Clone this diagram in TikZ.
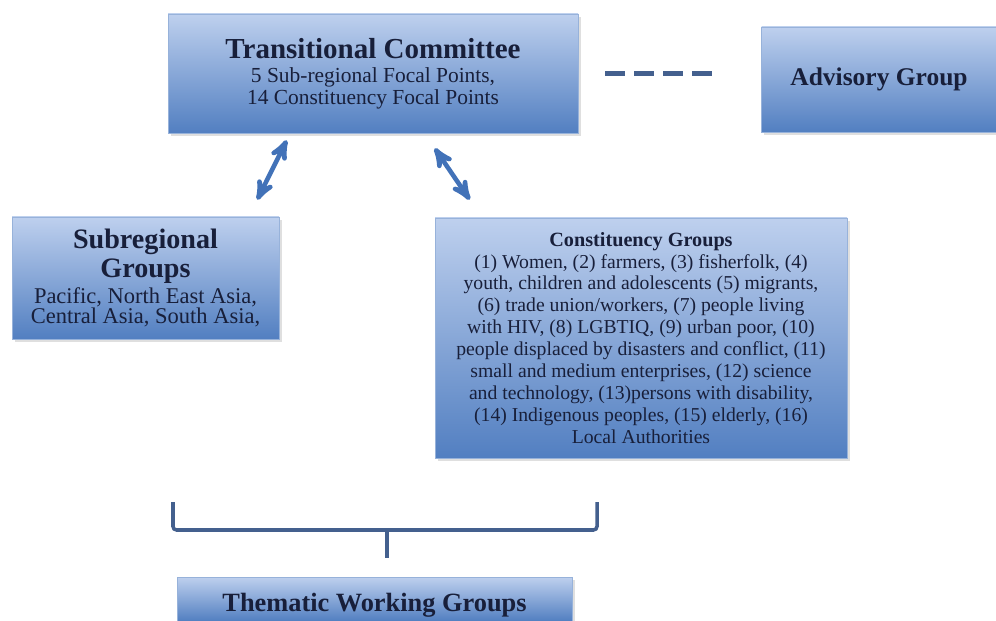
\documentclass[tikz,border=0pt]{standalone}
\usepackage{fontspec}
\setmainfont{Liberation Serif}
\usetikzlibrary{arrows,positioning,shadows}
\definecolor{boxtop}{RGB}{190,208,238}
\definecolor{boxbot}{RGB}{82,127,193}
\definecolor{ink}{RGB}{24,31,58}
\definecolor{pilblue}{RGB}{66,114,184}
\definecolor{bracegray}{RGB}{68,96,142}
\tikzset{
    %Define standard arrow tip
    >=stealth',
    %Define style for the group boxes
    group/.style={
           rectangle,
           draw=boxbot!60!white, line width=0.3pt,
           top color=boxtop,
           bottom color=boxbot,
           drop shadow={shadow xshift=0.05cm, shadow yshift=-0.06cm, opacity=0.25},
           text=ink,
           align=center,
           inner sep=0pt},
    % Define arrow style
    dblpil/.style={
           <->,
           color=pilblue,
           line width=2.6pt},
    % dashed link and bracket
    dashlink/.style={
           draw=bracegray, line width=2.8pt,
           dash pattern=on 0.4cm off 0.18cm},
    bracket/.style={
           draw=bracegray, line width=2pt,
           rounded corners=2pt}
}

\begin{document}
\begin{tikzpicture}
\useasboundingbox (0,0) rectangle (19.92,-12.42);
\node[group, minimum width=8.2cm, minimum height=2.38cm, font=\fontsize{12.2}{12.5}\selectfont] (T) at (7.46,-1.47)
  {\fontsize{16.5}{16}\selectfont\bfseries Transitional Committee\\[1pt]
   5 Sub-regional Focal Points,\\ 14 Constituency Focal Points};
\node[group, minimum width=4.7cm, minimum height=2.1cm, font=\fontsize{14.5}{16}\selectfont\bfseries,
  right=3.66cm of T, yshift=-0.12cm] (A) {Advisory Group};
\node[group, minimum width=5.34cm, minimum height=2.44cm, font=\fontsize{12.8}{11.5}\selectfont] (S) at (2.91,-5.56)
  {\fontsize{16}{16}\selectfont\bfseries Subregional\\[1.5pt]
   \fontsize{16}{16}\selectfont\bfseries Groups\\[1.5pt]
   Pacific, North East Asia,\\ Central Asia, South Asia,};
\node[group, minimum width=8.24cm, minimum height=4.8cm, font=\fontsize{11.2}{12.5}\selectfont] (K) at (12.82,-6.76)
  {\fontsize{11.5}{12.5}\selectfont\bfseries Constituency Groups\\
   (1) Women, (2) farmers, (3) fisherfolk, (4)\\
   youth, children and adolescents (5) migrants,\\
   (6) trade union/workers, (7) people living\\
   with HIV, (8) LGBTIQ, (9) urban poor, (10)\\
   people displaced by disasters and conflict, (11)\\
   small and medium enterprises, (12) science\\
   and technology, (13)persons with disability,\\
   (14) Indigenous peoples, (15) elderly, (16)\\
   Local Authorities};
\node[group, minimum width=7.9cm, minimum height=0.88cm, text height=0.6cm, text depth=0.1cm,
  font=\fontsize{15}{16}\selectfont\bfseries] (W) at (7.49,-11.98)
  {Thematic Working Groups};

\coordinate (bl) at (3.46,-10.04);
\coordinate (br) at (11.94,-10.04);
\coordinate (mid) at (7.74,-10.6);
\coordinate (stem) at (7.74,-11.16);

\draw[dashlink, shorten <=0.54cm, shorten >=0.98cm] (T.east) -- (A.west |- T.east);
\draw[dblpil] ([xshift=2.38cm, yshift=-0.14cm]T.south west) -- ([xshift=-0.44cm, yshift=0.34cm]S.north east);
\draw[dblpil] ([xshift=5.34cm, yshift=-0.3cm]T.south west) -- ([xshift=0.7cm, yshift=0.36cm]K.north west);
\draw[bracket] (bl) -- (bl |- mid) -- (br |- mid) -- (br);
\draw[bracket] (mid) -- (stem);
\end{tikzpicture}
\end{document}
